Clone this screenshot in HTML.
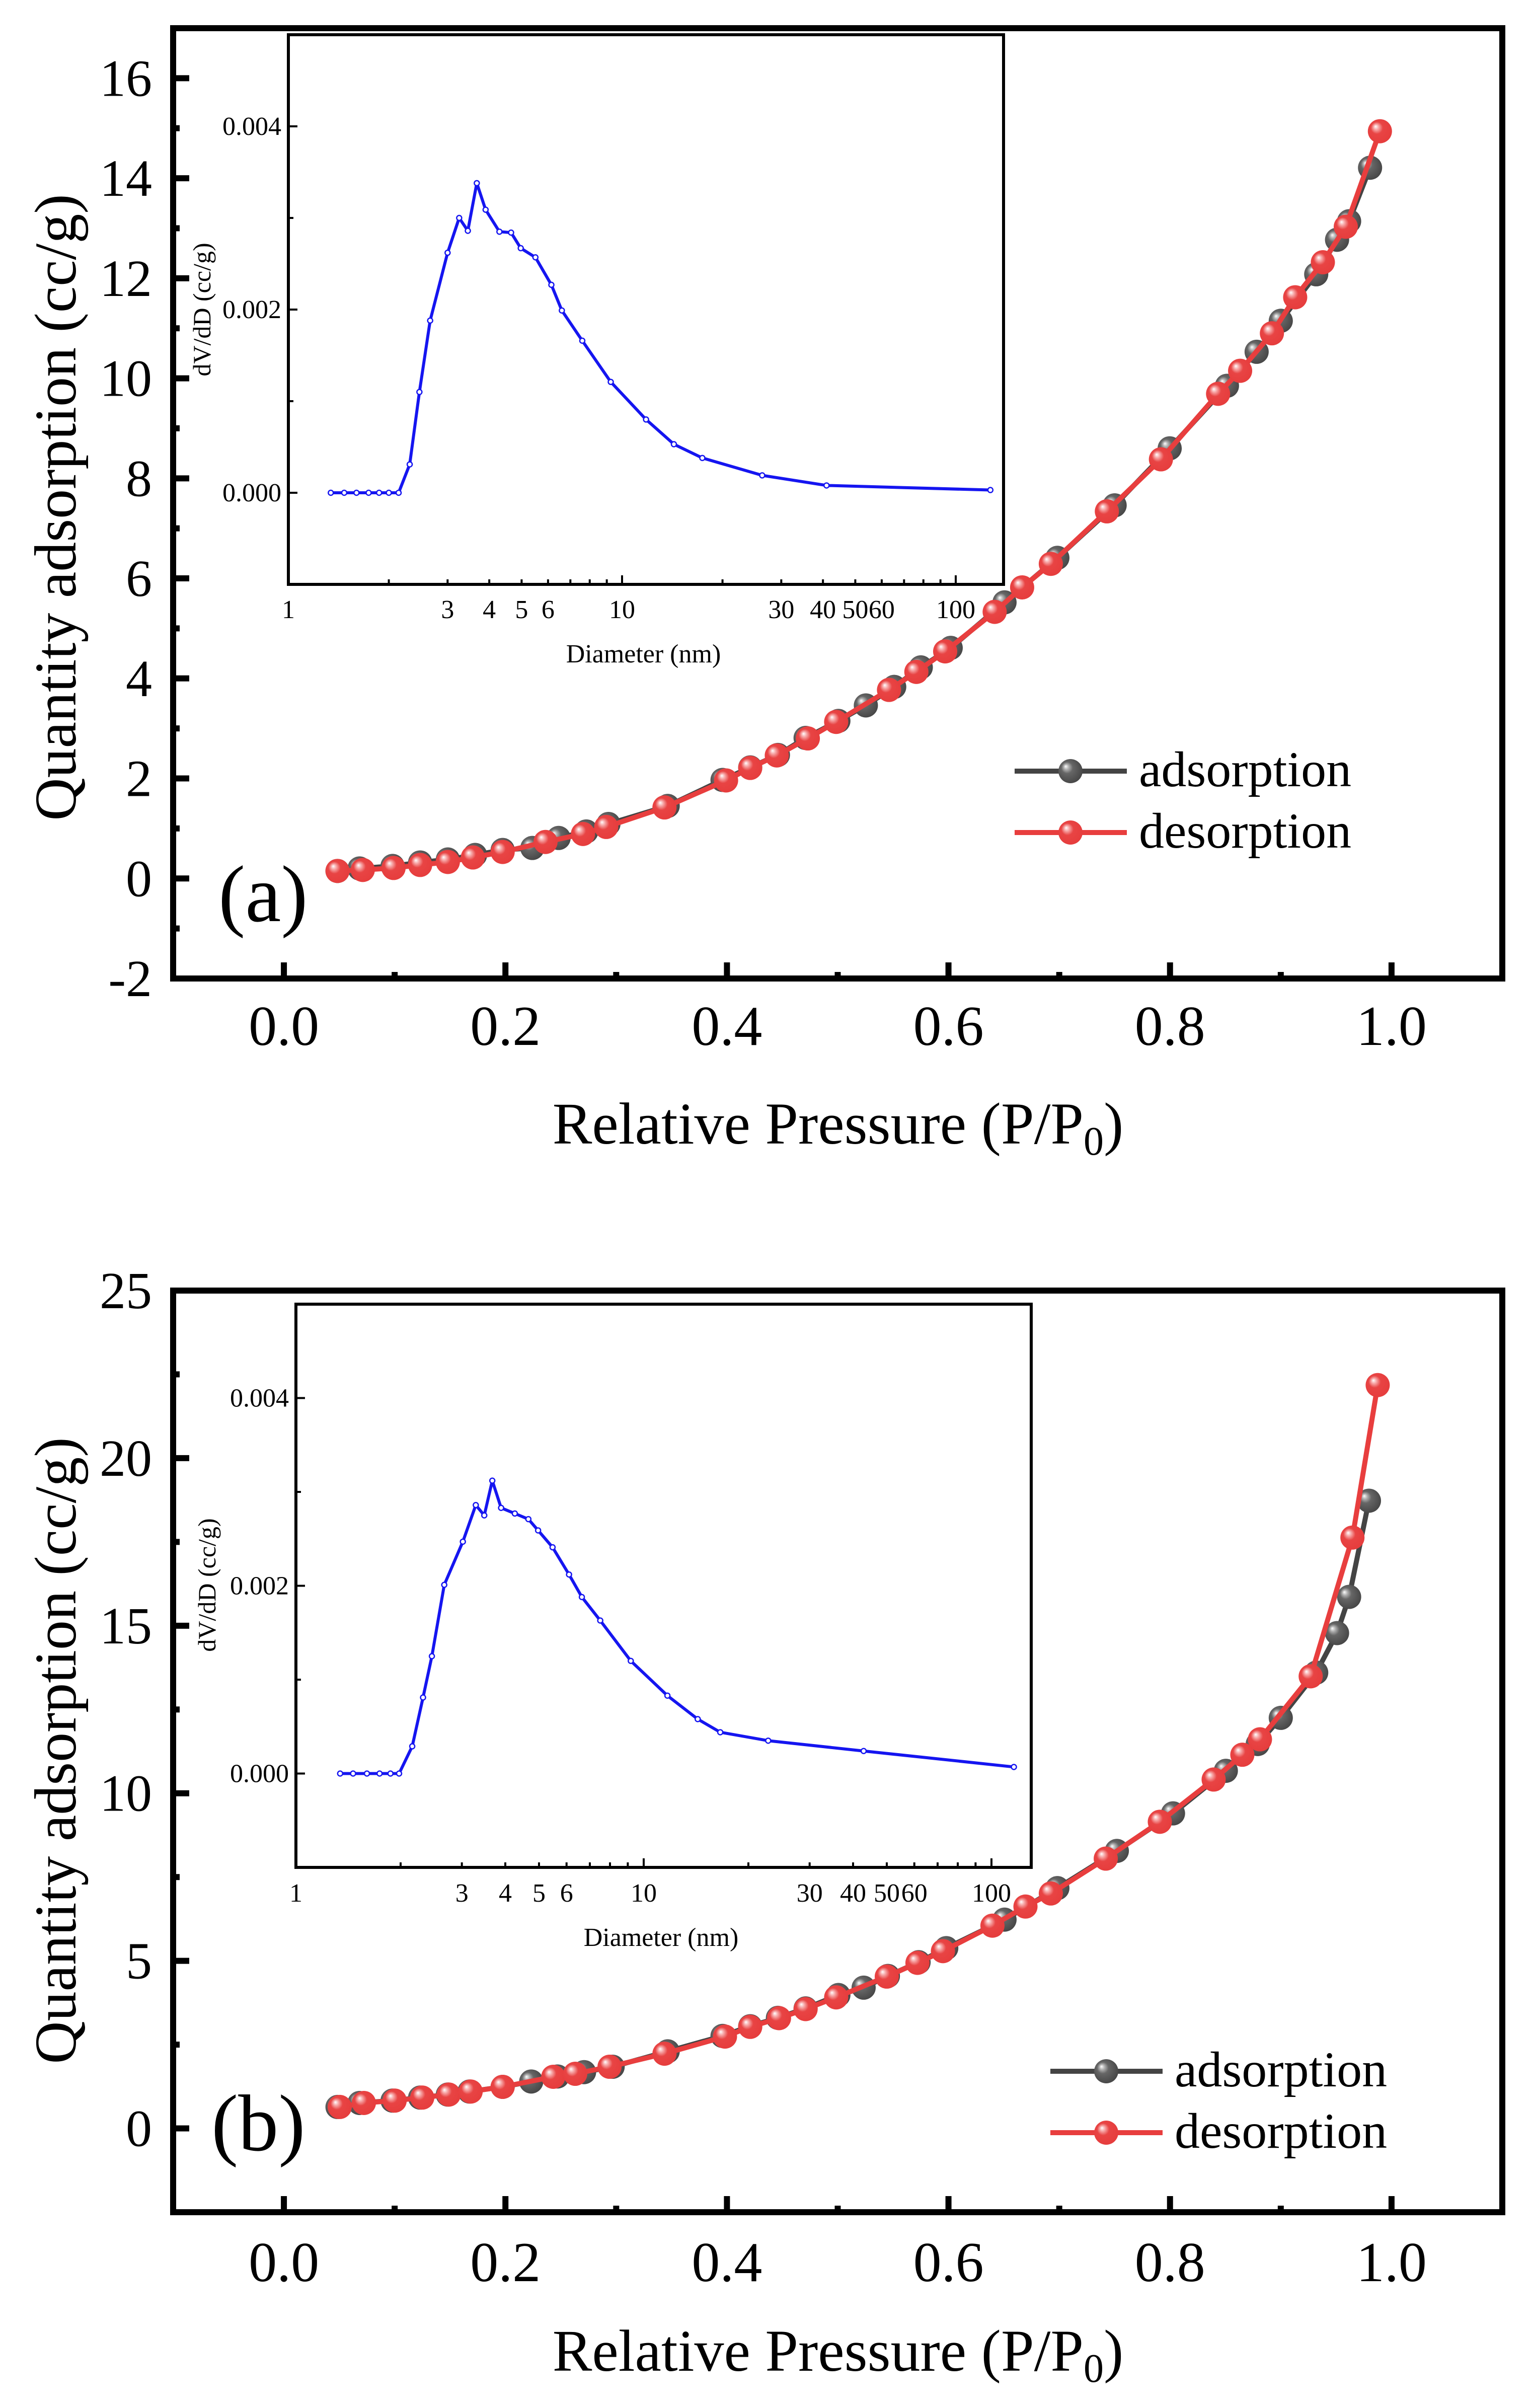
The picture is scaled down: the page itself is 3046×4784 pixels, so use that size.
<!DOCTYPE html>
<html><head><meta charset="utf-8">
<style>
html,body{margin:0;padding:0;background:#fff;}
svg{display:block;}
text{font-family:"Liberation Serif",serif;fill:#000;}
</style></head>
<body>
<svg id="fig" width="3046" height="4784" viewBox="0 0 3046 4784" xmlns="http://www.w3.org/2000/svg">
<defs>
<radialGradient id="gGray" cx="0.45" cy="0.45" r="0.6" fx="0.3" fy="0.3">
<stop offset="0" stop-color="#ffffff"/><stop offset="0.18" stop-color="#b0b0b0"/><stop offset="0.4" stop-color="#666"/><stop offset="1" stop-color="#444"/>
</radialGradient>
<radialGradient id="gRed" cx="0.45" cy="0.45" r="0.6" fx="0.32" fy="0.3">
<stop offset="0" stop-color="#ffffff"/><stop offset="0.18" stop-color="#f7a8a8"/><stop offset="0.42" stop-color="#e84444"/><stop offset="1" stop-color="#e63c3c"/>
</radialGradient>
</defs>
</svg>
<script>
// ---------- Panel (a) data ----------
const aAdsX = [0.0484,0.0683,0.0981,0.123,0.148,0.1726,0.1975,0.2243,0.248,0.273,0.293,0.3465,0.396,0.421,0.446,0.471,0.5006,0.5254,0.551,0.575,0.602,0.6506,0.6983,0.750,0.7997,0.8514,0.8782,0.900,0.932,0.9508,0.9617,0.9806];
const aAdsY = [0.15,0.2,0.25,0.32,0.38,0.47,0.57,0.61,0.81,0.94,1.09,1.45,1.97,2.22,2.47,2.81,3.15,3.46,3.83,4.22,4.61,5.52,6.41,7.46,8.6,9.85,10.53,11.15,12.08,12.77,13.14,14.21];
const aDesX = [0.0484,0.0712,0.099,0.123,0.148,0.1706,0.1975,0.2362,0.270,0.291,0.3436,0.3992,0.421,0.445,0.473,0.4986,0.5463,0.571,0.597,0.6417,0.6665,0.6924,0.743,0.7918,0.8434,0.8633,0.892,0.913,0.938,0.9587,0.9895];
const aDesY = [0.15,0.17,0.21,0.27,0.33,0.42,0.53,0.73,0.89,1.03,1.42,1.96,2.21,2.46,2.8,3.13,3.77,4.13,4.54,5.33,5.82,6.29,7.34,8.38,9.69,10.15,10.9,11.62,12.32,13.03,14.94];
const aPsdD = [1.34,1.47,1.6,1.74,1.87,2.0,2.14,2.31,2.47,2.66,3.0,3.25,3.45,3.67,3.9,4.29,4.65,4.97,5.5,6.14,6.6,7.6,9.25,11.8,14.3,17.4,26.3,41,127];
const aPsdV = [0,0,0,0,0,0,0,0.31,1.1,1.88,2.62,3.0,2.86,3.38,3.09,2.85,2.84,2.67,2.57,2.27,1.99,1.66,1.21,0.8,0.53,0.38,0.19,0.08,0.03];
// ---------- Panel (b) data ----------
const bAdsX = [0.0484,0.0683,0.0981,0.123,0.148,0.1676,0.1975,0.2233,0.247,0.271,0.2968,0.3465,0.396,0.421,0.446,0.471,0.5006,0.5234,0.5453,0.573,0.598,0.6506,0.6983,0.752,0.8027,0.8504,0.8792,0.900,0.932,0.9508,0.9617,0.9796];
const bAdsY = [0.64,0.76,0.83,0.92,1.01,1.1,1.24,1.4,1.55,1.68,1.84,2.3,2.76,3.05,3.3,3.58,3.98,4.2,4.55,4.96,5.38,6.23,7.17,8.28,9.4,10.67,11.47,12.25,13.6,14.78,15.86,18.73];
const bDesX = [0.0504,0.0722,0.100,0.1249,0.1488,0.1686,0.1975,0.2432,0.263,0.294,0.3436,0.3982,0.421,0.447,0.471,0.4986,0.5443,0.572,0.595,0.6397,0.6695,0.6924,0.742,0.7908,0.8394,0.8653,0.8812,0.927,0.9647,0.9875];
const bDesY = [0.64,0.76,0.83,0.92,1.01,1.1,1.24,1.54,1.63,1.84,2.23,2.74,3.03,3.29,3.56,3.91,4.53,4.94,5.29,6.05,6.62,7.01,8.05,9.15,10.41,11.15,11.61,13.49,17.63,22.18];
const bPsdD = [1.34,1.46,1.6,1.74,1.87,1.98,2.16,2.32,2.46,2.67,3.02,3.29,3.48,3.67,3.89,4.26,4.66,4.97,5.47,6.1,6.64,7.5,9.18,11.7,14.3,16.6,22.8,42.9,116];
const bPsdV = [0,0,0,0,0,0,0.29,0.81,1.25,2.01,2.47,2.86,2.75,3.12,2.83,2.77,2.71,2.59,2.41,2.12,1.88,1.63,1.2,0.83,0.58,0.44,0.35,0.24,0.07];
// ---------- tick labels ----------
const xTicks = [0.0,0.2,0.4,0.6,0.8,1.0];
const aYTicks = [-2,0,2,4,6,8,10,12,14,16];
const bYTicks = [0,5,10,15,20,25];
const insetXLabels = [1,3,4,5,6,10,30,40,50,60,100];
const insetYTicks = [0.000,0.002,0.004];

const svg = document.getElementById('fig');
const NS = 'http://www.w3.org/2000/svg';
function mk(tag, attrs, parent){
  const e = document.createElementNS(NS, tag);
  for (const k in attrs) e.setAttribute(k, attrs[k]);
  (parent||svg).appendChild(e);
  return e;
}

function panel(cfg){
  const g = mk('g', {});
  
  
  const L=344, R=2985, T=cfg.top, B=cfg.bottom;
  const sx = v => L + (v - (-0.1)) / 1.2 * (R - L);
  const sy = v => B - (v - cfg.ymin) / (cfg.ymax - cfg.ymin) * (B - T);
  for (let i=-1;i<=11;i++){
    const v=i/10, x=sx(v), major=(i%2===0);
    const t = mk('line',{x1:x,x2:x,y1:B,y2:B-(major?32:13),stroke:'#000','stroke-width':12},g);
    
    
  }
  xTicks.forEach(v=>{
    const t = mk('text',{x:sx(v),y:cfg.xLabY,'font-size':112,'text-anchor':'middle'},g);
    t.textContent=v.toFixed(1);
    
    
  });
  const step = cfg.yTicks[1]-cfg.yTicks[0];
  for (let v=cfg.ymin; v<=cfg.ymax+1e-9; v+=step/2){
    const major = Math.abs(Math.round(v/step)*step - v) < 1e-6;
    const y=sy(v);
    if (y<T+5||y>B-5) continue;
    const t = mk('line',{x1:L,x2:L+(major?32:13),y1:y,y2:y,stroke:'#000','stroke-width':12},g);
    
    
  }
  cfg.yTicks.forEach(v=>{
    const t = mk('text',{x:302,y:sy(v)+35,'font-size':104,'text-anchor':'end'},g);
    t.textContent=String(v);
    
    
  });
  const fr = mk('rect',{x:L,y:T,width:R-L,height:B-T,fill:'none',stroke:'#000','stroke-width':12},g);
  
  
  const xt = mk('text',{x:1665,y:cfg.xTitleY,'font-size':118,'text-anchor':'middle'},g);
  xt.innerHTML='Relative Pressure (P/P<tspan font-size="80" dy="22">0</tspan><tspan dy="-22">)</tspan>';
  
  
  const yt = mk('text',{x:0,y:0,'font-size':118,'text-anchor':'middle',transform:`translate(150,${cfg.yTitleC}) rotate(-90)`},g);
  yt.textContent='Quantity adsorption (cc/g)';
  
  
  const pl = mk('text',{x:cfg.lab[0],y:cfg.lab[1],'font-size':160},g);
  pl.textContent=cfg.label;
  
  
  function series(xs,ys,color,grad,nm){
    const sg = mk('g',{},g);
    
    
    const pts = xs.map((x,i)=>sx(x)+','+sy(ys[i])).join(' ');
    const pline = mk('polyline',{points:pts,fill:'none',stroke:color,'stroke-width':10,'stroke-linejoin':'round'},sg);
    
    
    xs.forEach((x,i)=>{
      const c = mk('circle',{cx:sx(x),cy:sy(ys[i]),r:24,fill:`url(#${grad})`},sg);
      
      
    });
  }
  series(cfg.adsX,cfg.adsY,'#444','gGray','adsorption');
  series(cfg.desX,cfg.desY,'#e83e3e','gRed','desorption');
  const lg = mk('g',{},g);
  
  
  [['adsorption','#444','gGray',cfg.leg[1]],['desorption','#e83e3e','gRed',cfg.leg[1]+122]].forEach(e=>{
    const ln = mk('line',{x1:cfg.leg[0],x2:cfg.leg[0]+223,y1:e[3],y2:e[3],stroke:e[1],'stroke-width':10},lg);
    
    
    const c = mk('circle',{cx:cfg.leg[0]+111,cy:e[3],r:24,fill:`url(#${e[2]})`},lg);
    
    
    const t = mk('text',{x:cfg.leg[0]+247,y:e[3]+30,'font-size':100},lg);
    t.textContent=e[0];
    
    
  });
  const ins = cfg.inset;
  const ig = mk('g',{},g);
  
  
  const iL=ins.L, iR=ins.R, iT=ins.T, iB=ins.B;
  const ix = d => iL + Math.log10(d)*ins.dec;
  const iy = v => iB - (v + 0.001)/0.006*(iB-iT);
  mk('rect',{x:iL,y:iT,width:iR-iL,height:iB-iT,fill:'#fff',stroke:'none'},ig);
  for (let e=0;e<3;e++) for (let m=1;m<10;m++){
    const d=m*Math.pow(10,e), x=ix(d);
    if (x>iR-3) continue;
    const t = mk('line',{x1:x,x2:x,y1:iB,y2:iB-(m===1?18:10),stroke:'#000','stroke-width':4},ig);
    
    
  }
  insetXLabels.forEach(d=>{
    const t = mk('text',{x:ix(d),y:ins.xLabY,'font-size':52,'text-anchor':'middle'},ig);
    t.textContent=String(d);
    
    
  });
  for (let k=-1;k<=5;k++){
    const v=k/1000, y=iy(v);
    if (y<iT+3||y>iB-3) continue;
    const t = mk('line',{x1:iL,x2:iL+(k%2===0?18:10),y1:y,y2:y,stroke:'#000','stroke-width':4},ig);
    
    
  }
  insetYTicks.forEach(v=>{
    const t = mk('text',{x:iL-14,y:iy(v)+17,'font-size':52,'text-anchor':'end'},ig);
    t.textContent=v.toFixed(3);
    
    
  });
  const ifr = mk('rect',{x:iL,y:iT,width:iR-iL,height:iB-iT,fill:'none',stroke:'#000','stroke-width':6},ig);
  
  
  const ixt = mk('text',{x:(iL+iR)/2-5,y:ins.xTitleY,'font-size':52,'text-anchor':'middle'},ig);
  ixt.textContent='Diameter (nm)';
  
  
  const iyt = mk('text',{x:0,y:0,'font-size':50,'text-anchor':'middle',transform:`translate(${ins.yTitleX},${ins.yTitleC}) rotate(-90)`},ig);
  iyt.textContent='dV/dD (cc/g)';
  
  
  const ipts = ins.d.map((d,i)=>ix(d)+','+iy(ins.v[i]/1000)).join(' ');
  const ipl = mk('polyline',{points:ipts,fill:'none',stroke:'#1515f0','stroke-width':6,'stroke-linejoin':'round'},ig);
  
  
  ins.d.forEach((d,i)=>{
    const c = mk('circle',{cx:ix(d),cy:iy(ins.v[i]/1000),r:5,fill:'#fff',stroke:'#1515f0','stroke-width':2.5},ig);
    
    
  });
}

panel({name:'panel-a',top:56,bottom:1944,ymin:-2,ymax:17,yTicks:aYTicks,xLabY:2076,xTitleY:2272,yTitleC:1008,
  label:'(a)',lab:[434,1830],leg:[2016,1532],
  adsX:aAdsX,adsY:aAdsY,desX:aDesX,desY:aDesY,
  inset:{L:573,R:1994,T:69,B:1161,dec:663,d:aPsdD,v:aPsdV,xLabY:1228,xTitleY:1316,yTitleX:418,yTitleC:615}});
panel({name:'panel-b',top:2564,bottom:4395,ymin:-2.5,ymax:25,yTicks:bYTicks,xLabY:4532,xTitleY:4710,yTitleC:3478,
  label:'(b)',lab:[420,4272],leg:[2087,4115],
  adsX:bAdsX,adsY:bAdsY,desX:bDesX,desY:bDesY,
  inset:{L:588,R:2049,T:2591,B:3710,dec:691,d:bPsdD,v:bPsdV,xLabY:3778,xTitleY:3866,yTitleX:428,yTitleC:3149}});
</script>
</body></html>
